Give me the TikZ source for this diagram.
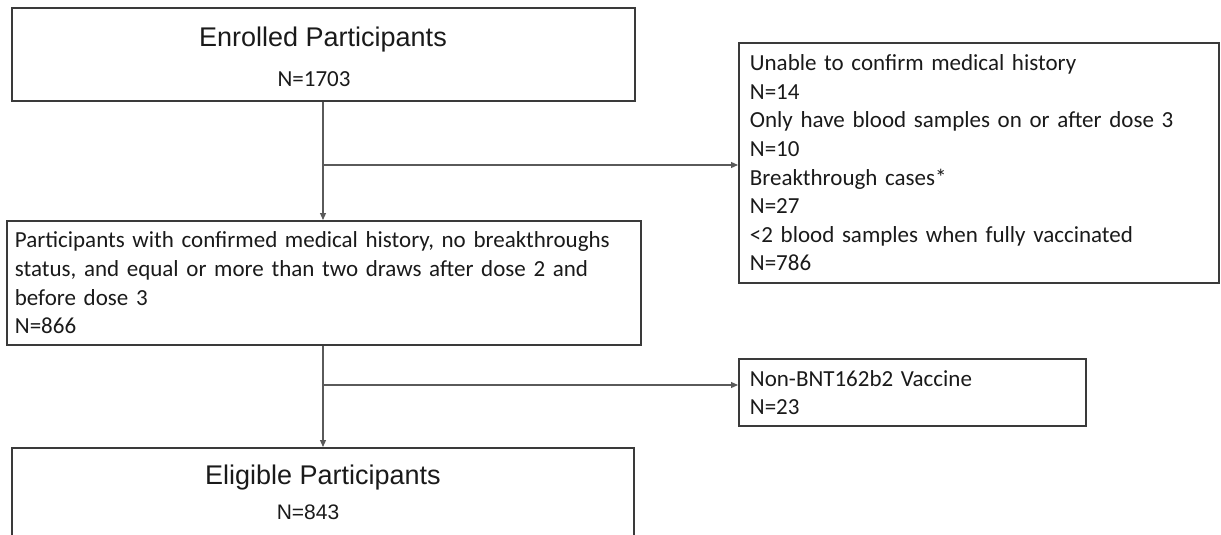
\documentclass[tikz,border=0pt]{standalone}
\usepackage{fontspec}
\setmainfont{Carlito}
\newfontfamily\arialfont{Liberation Sans}
\usetikzlibrary{arrows.meta}
\definecolor{boxgray}{HTML}{3A3A3A}
\definecolor{linegray}{HTML}{5A5A5A}
\definecolor{txt}{HTML}{1A1A1A}
\begin{document}
\begin{tikzpicture}[x=1pt,y=-1pt,
  box/.style={draw=boxgray, line width=1.8pt, rectangle, inner ysep=0pt, anchor=north west},
  conn/.style={draw=linegray, line width=1.1pt, -{Triangle[length=7pt,width=6pt]}},
  body/.style={font=\fontsize{23}{28.6}\selectfont, align=left, text=txt},
  title/.style={font=\arialfont\fontsize{27}{30}\selectfont, anchor=base, inner sep=0pt, text=txt}
]
\useasboundingbox (0,0) rectangle (1221,535);
\clip (0,0) rectangle (1221,535);

% boxes
\node[box, minimum width=623pt, minimum height=93pt] (enr) at (11,7) {};
\node[title] (enrT) at (323,47) {Enrolled Participants};
\node[anchor=base, inner sep=0pt, text=txt, font=\fontsize{23}{27}\selectfont] (enrN) at (314,86) {N=1703};

\node[box, body, inner xsep=11pt, text width=458pt, minimum width=480pt, minimum height=240pt] (ex1) at (738,42)
 {Unable to confirm medical history\\
  N=14\\
  Only have blood samples on or after dose 3\\
  N=10\\
  Breakthrough cases*\\
  N=27\\
  <2 blood samples when fully vaccinated\\
  N=786};

\node[box, body, inner xsep=8pt, text width=618pt, minimum width=634pt, minimum height=124pt] (reg) at (6,220)
 {Participants with confirmed medical history, no breakthroughs\\
  status, and equal or more than two draws after dose 2 and\\
  before dose 3\\
  N=866};

\node[box, body, inner xsep=11pt, text width=325pt, minimum width=347pt, minimum height=67pt] (ex2) at (738,358)
 {Non-BNT162b2 Vaccine\\
  N=23};

\node[box, minimum width=622pt, minimum height=110pt] (eli) at (11,447) {};
\node[title] (eliT) at (323,484) {Eligible Participants};
\node[anchor=base, inner sep=0pt, text=txt, font=\arialfont\fontsize{21}{25}\selectfont] (eliN) at (308,519) {N=843};

% connectors
\coordinate (b1) at (323,165);
\coordinate (b2) at (323,385);
\draw[conn] (b1 |- enr.south) -- (b1 |- reg.north);
\draw[conn] (b1) -- (b1 -| ex1.west);
\draw[conn] (b2 |- reg.south) -- (b2 |- eli.north);
\draw[conn] (b2) -- (b2 -| ex2.west);
\end{tikzpicture}
\end{document}
